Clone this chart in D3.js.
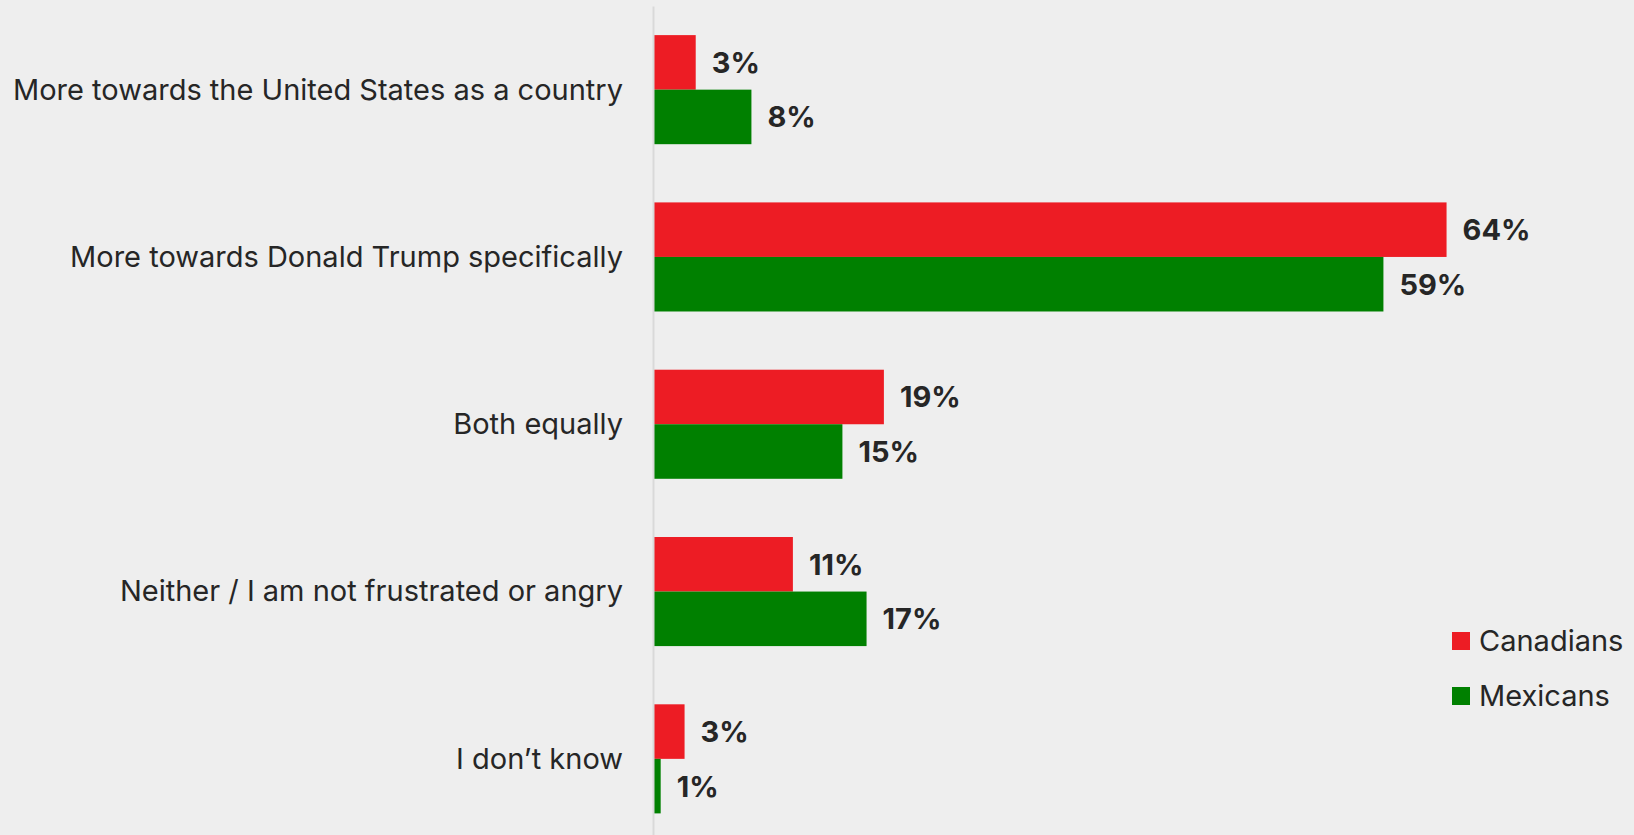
<!DOCTYPE html>
<html><head><meta charset="utf-8">
<script src="https://cdn.jsdelivr.net/npm/d3@7"></script>
<style>
html,body{margin:0;padding:0;background:#eeeeee;}
svg{display:block;}
text{font-family:Inter,"Open Sans",sans-serif;fill:#262626;}
</style></head>
<body><svg id="c" width="1634" height="835"></svg>
<script>
const categories = ["More towards the United States as a country","More towards Donald Trump specifically","Both equally","Neither / I am not frustrated or angry","I don\u2019t know"];
const series = ["Canadians","Mexicans"];
const canadians = [3.45, 64.1, 18.65, 11.3, 2.55];
const mexicans = [7.95, 59.0, 15.3, 17.25, 0.62];
const canadiansLabels = ["3%","64%","19%","11%","3%"];
const mexicansLabels = ["8%","59%","15%","17%","1%"];
const colors = ["#ED1C24","#008000"];

const svg = d3.select("#c");
const W = 1634, H = 835;
svg.append("rect").attr("width",W).attr("height",H).attr("fill","#eeeeee");

const x = d3.scaleLinear().domain([0,70]).range([653, 653+866.6]);
const y = d3.scaleBand().domain(categories).range([6, 842.5]).paddingInner(0.348).paddingOuter(0.174);
const ys = d3.scaleBand().domain(series).range([0, y.bandwidth()]);

const data = categories.map((c,i)=>({cat:c, vals:[
  {s:"Canadians", v:canadians[i], l:canadiansLabels[i], c:colors[0]},
  {s:"Mexicans", v:mexicans[i], l:mexicansLabels[i], c:colors[1]}]}));

const g = svg.selectAll("g.grp").data(data).join("g").attr("class","grp")
  .attr("transform", d=>`translate(0,${y(d.cat)})`);
g.selectAll("rect").data(d=>d.vals).join("rect")
  .attr("x", x(0)).attr("y", d=>ys(d.s))
  .attr("width", d=>x(d.v)-x(0)).attr("height", ys.bandwidth())
  .attr("fill", d=>d.c);
g.selectAll("text.val").data(d=>d.vals).join("text").attr("class","val")
  .attr("x", d=>x(d.v)+16).attr("y", d=>ys(d.s)+ys.bandwidth()/2)
  .attr("dy","0.36em")
  .style("font-size","29px").style("font-weight","700")
  .text(d=>d.l);

const ax = svg.append("g").attr("transform",`translate(${x(0)},0)`)
  .call(d3.axisLeft(y).tickSize(0).tickPadding(30).tickSizeOuter(0));
ax.select(".domain").attr("stroke","#d9d9d9").attr("stroke-width",2);
ax.selectAll("text").style("font-size","29px").style("font-family","Inter, 'Open Sans', sans-serif").attr("fill","#262626").attr("dy","0.34em");

// legend
const lg = svg.append("g").selectAll("g").data(series).join("g")
  .attr("transform",(d,i)=>`translate(1452,${632+i*55})`);
lg.append("rect").attr("width",18).attr("height",18).attr("fill",(d,i)=>colors[i]);
lg.append("text").attr("x",27).attr("y",9).attr("dy","0.36em")
  .style("font-size","29px").text(d=>d);
</script></body></html>
